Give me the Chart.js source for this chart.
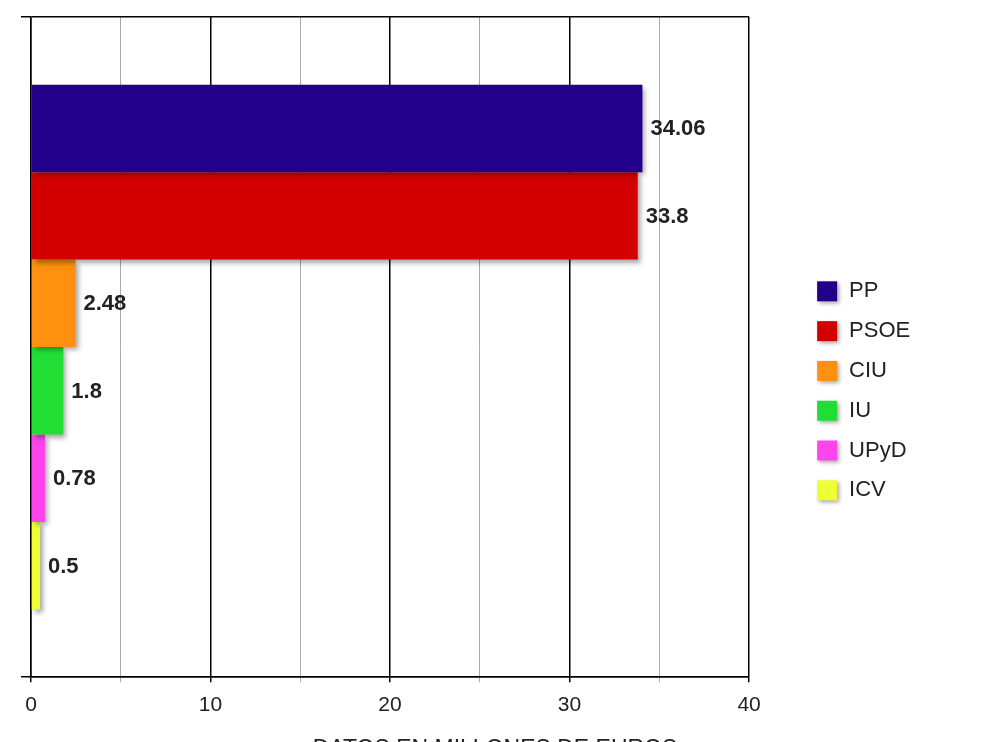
<!DOCTYPE html>
<html>
<head>
<meta charset="utf-8">
<script src="https://cdn.jsdelivr.net/npm/chart.js@4.4.1/dist/chart.umd.min.js"></script>
<style>
  html, body { margin: 0; padding: 0; background: #fff; overflow: hidden; }
  #wrap { position: absolute; left: 0; top: 0; width: 990px; height: 770px; }
</style>
</head>
<body>
<div id="wrap"><canvas id="c"></canvas></div>
<script>
const parties = ['PP', 'PSOE', 'CIU', 'IU', 'UPyD', 'ICV'];
const amounts = [34.06, 33.8, 2.48, 1.8, 0.78, 0.5];
const partyColors = ['#22008a', '#d20000', '#ff9010', '#22dd33', '#ff44ee', '#eeff33'];
const xTickValues = [0, 10, 20, 30, 40];
const axisTitle = 'DATOS EN MILLONES DE EUROS';

const FONT = "'Liberation Sans', Arial, sans-serif";
const LEGEND_PAD = 17.8;

function shadowSwatch(color) {
  const m = 6, s = 20;
  const cv = document.createElement('canvas');
  cv.width = s + 2 * m; cv.height = s + 2 * m;
  const g = cv.getContext('2d');
  g.shadowColor = 'rgba(0,0,0,0.35)';
  g.shadowBlur = 4;
  g.shadowOffsetX = 2;
  g.shadowOffsetY = 2;
  g.fillStyle = color;
  g.fillRect(m, m, s, s);
  return cv;
}

const shadowPlugin = {
  id: 'barShadow',
  beforeDatasetDraw(chart) {
    const ctx = chart.ctx;
    ctx.save();
    ctx.shadowColor = 'rgba(0,0,0,0.35)';
    ctx.shadowBlur = 5;
    ctx.shadowOffsetX = 3;
    ctx.shadowOffsetY = 3;
  },
  afterDatasetDraw(chart) {
    chart.ctx.restore();
  }
};

const valueLabels = {
  id: 'valueLabels',
  afterDatasetsDraw(chart) {
    const ctx = chart.ctx;
    ctx.save();
    ctx.font = "bold 22px " + FONT;
    ctx.fillStyle = '#222';
    ctx.textAlign = 'left';
    ctx.textBaseline = 'middle';
    chart.data.datasets.forEach((ds, i) => {
      const meta = chart.getDatasetMeta(i);
      meta.data.forEach((bar, j) => {
        ctx.fillText(String(ds.data[j]), bar.x + 8, bar.y + 1);
      });
    });
    ctx.restore();
  }
};

// place legend and bottom title relative to the plot area
const placeBoxes = {
  id: 'placeBoxes',
  afterLayout(chart) {
    const ca = chart.chartArea;
    const lg = chart.legend;
    if (lg) {
      const w = lg.width, h = lg.height;
      lg.left = ca.right + 67 - LEGEND_PAD;
      lg.right = lg.left + w;
      lg.top = ca.top + 245.5;
      lg.bottom = lg.top + h;
    }
    const tb = chart.titleBlock;
    if (tb) {
      const dx = chart.width / 2 - (tb.left + tb.right) / 2;
      tb.left += dx;
      tb.right += dx;
    }
  }
};

const datasets = parties.map((p, i) => ({
  label: p,
  data: [amounts[i]],
  backgroundColor: partyColors[i],
  borderWidth: 0,
  categoryPercentage: 0.795,
  barPercentage: 1.0
}));

new Chart(document.getElementById('c'), {
  type: 'bar',
  data: { labels: [''], datasets },
  options: {
    indexAxis: 'y',
    responsive: true,
    maintainAspectRatio: false,
    animation: false,
    layout: { padding: { left: 21, right: 119, top: 17, bottom: 3 } },
    scales: {
      x: {
        min: 0, max: 40,
        afterBuildTicks(axis) {
          const t = [];
          for (let v = 0; v <= 40; v += 5) t.push({ value: v });
          axis.ticks = t;
        },
        ticks: {
          autoSkip: false,
          maxRotation: 0,
          color: '#222',
          font: { family: FONT, size: 21 },
          padding: 10,
          callback: (v) => xTickValues.includes(v) ? String(v) : ''
        },
        grid: {
          color: (c) => (c.tick && c.tick.value % 10 === 0) ? '#000' : '#aaa',
          lineWidth: (c) => (c.tick && c.tick.value % 10 === 0) ? 1.5 : 1,
          tickLength: 5,
          drawOnChartArea: true
        },
        border: { display: true, color: '#000', width: 1.5 }
      },
      y: {
        ticks: { display: true, padding: 0, font: { size: 1 } },
        grid: { color: '#000', lineWidth: 1.5, tickLength: 10, offset: true },
        border: { display: true, color: '#000', width: 1.5 }
      }
    },
    plugins: {
      legend: {
        position: 'right',
        align: 'start',
        labels: {
          usePointStyle: true,
          pointStyleWidth: 22,
          boxWidth: 22,
          boxHeight: 21,
          padding: LEGEND_PAD,
          color: '#222',
          font: { family: FONT, size: 22 },
          generateLabels(chart) {
            return chart.data.datasets.map((ds, i) => ({
              text: ds.label,
              fillStyle: ds.backgroundColor,
              strokeStyle: ds.backgroundColor,
              lineWidth: 0,
              pointStyle: shadowSwatch(ds.backgroundColor),
              hidden: false,
              datasetIndex: i,
              fontColor: '#222'
            }));
          }
        }
      },
      title: {
        display: true,
        position: 'bottom',
        text: axisTitle,
        color: '#222',
        font: { family: FONT, size: 23, weight: 'normal' },
        padding: { top: 8, bottom: 4 }
      },
      tooltip: { enabled: false }
    }
  },
  plugins: [shadowPlugin, valueLabels, placeBoxes]
});
</script>
</body>
</html>
